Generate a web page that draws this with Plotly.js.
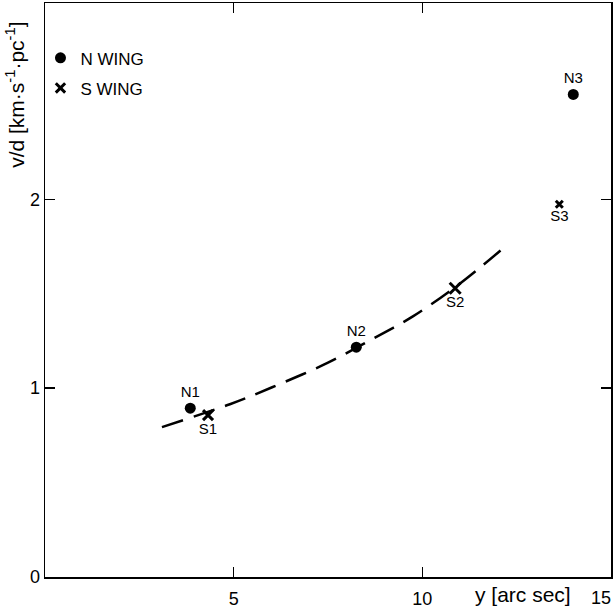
<!DOCTYPE html>
<html>
<head>
<meta charset="utf-8">
<script src="https://cdn.plot.ly/plotly-3.0.1.min.js"></script>
<style>
html,body{margin:0;padding:0;background:#fff;}
#chart{width:616px;height:608px;}
</style>
</head>
<body>
<div id="chart"></div>
<script>
// North wing points
var nX = [3.85, 8.25, 14.0];
var nY = [0.894, 1.217, 2.556];
var nLabels = ["N1", "N2", "N3"];
// South wing points
var sX = [4.32, 10.87, 13.63];
var sY = [0.857, 1.529, 1.974];
var sLabels = ["S1", "S2", "S3"];
// Dashed fitted curve
var curveX = [3.10, 4.90, 6.02, 7.50, 8.69, 9.75, 10.87, 11.61, 12.14];
var curveY = [0.794, 0.915, 1.005, 1.135, 1.262, 1.380, 1.535, 1.652, 1.741];
// Axis ticks
var xTicks = [5, 10, 15];
var xTickText = ["5", "10", ""];
var xEndTickValue = 15;
var xEndTickText = "15";
var yTicks = [0, 1, 2];
var yTickText = ["0", "1", "2"];

var FONT = "Liberation Sans, Arial, sans-serif";

var traces = [
  {
    x: curveX, y: curveY, mode: "lines", type: "scatter",
    line: {color: "#000", width: 2.5, dash: "22px,11px", shape: "spline", smoothing: 1},
    showlegend: false, hoverinfo: "skip"
  },
  {
    x: nX, y: nY, text: nLabels, mode: "markers+text", type: "scatter",
    name: "N WING", legendgroup: "n",
    marker: {symbol: "circle", size: 11, color: "#000", opacity: 1},
    textposition: "top center",
    textfont: {family: FONT, size: 15, color: "#000"}
  },
  {
    x: sX, y: sY, text: sLabels, mode: "markers+text", type: "scatter",
    name: "S WING", legendgroup: "s",
    marker: {symbol: "x-thin", size: [10, 11, 7], color: "#000", opacity: 1,
             line: {width: 3, color: "#000"}},
    textposition: "bottom center",
    textfont: {family: FONT, size: 15, color: "#000"}
  }
];

var axisCommon = {
  showline: true, linecolor: "#000", linewidth: 1.5, mirror: "ticks",
  ticks: "inside", ticklen: 10, tickwidth: 1.5, tickcolor: "#000",
  showgrid: false, zeroline: false,
  tickfont: {family: FONT, size: 18, color: "#000"}
};

var layout = {
  width: 616, height: 608,
  margin: {l: 45, r: 5, t: 3, b: 31},
  paper_bgcolor: "#fff", plot_bgcolor: "#fff",
  showlegend: true,
  legend: {
    x: -0.008, y: 0.935, xanchor: "left", yanchor: "top",
    bgcolor: "rgba(0,0,0,0)", traceorder: "grouped", tracegroupgap: 5,
    font: {family: FONT, size: 17, color: "#000"}
  },
  xaxis: Object.assign({}, axisCommon, {
    range: [0, 15], tickmode: "array", tickvals: xTicks, ticktext: xTickText,
    ticklabelstandoff: 5
  }),
  yaxis: Object.assign({}, axisCommon, {
    range: [0, 3.04], tickmode: "array", tickvals: yTicks, ticktext: yTickText
  }),
  annotations: [
    {
      text: "v/d [km·s<sup>-1</sup>·pc<sup>-1</sup>]",
      xref: "paper", yref: "paper", x: 0, y: 0.84,
      xanchor: "center", yanchor: "middle", xshift: -30,
      textangle: -90, showarrow: false,
      font: {family: FONT, size: 21, color: "#000"}
    },
    {
      text: "y [arc sec]",
      xref: "x", yref: "paper", x: 12.67, y: 0,
      xanchor: "center", yanchor: "top", yshift: -4,
      showarrow: false,
      font: {family: FONT, size: 21, color: "#000"}
    },
    {
      text: xEndTickText,
      xref: "x", yref: "paper", x: xEndTickValue, y: 0,
      xanchor: "right", yanchor: "top", yshift: -9, xshift: 2,
      showarrow: false,
      font: {family: FONT, size: 18, color: "#000"}
    }
  ]
};

Plotly.newPlot("chart", traces, layout, {displayModeBar: false, staticPlot: true});
</script>
</body>
</html>
